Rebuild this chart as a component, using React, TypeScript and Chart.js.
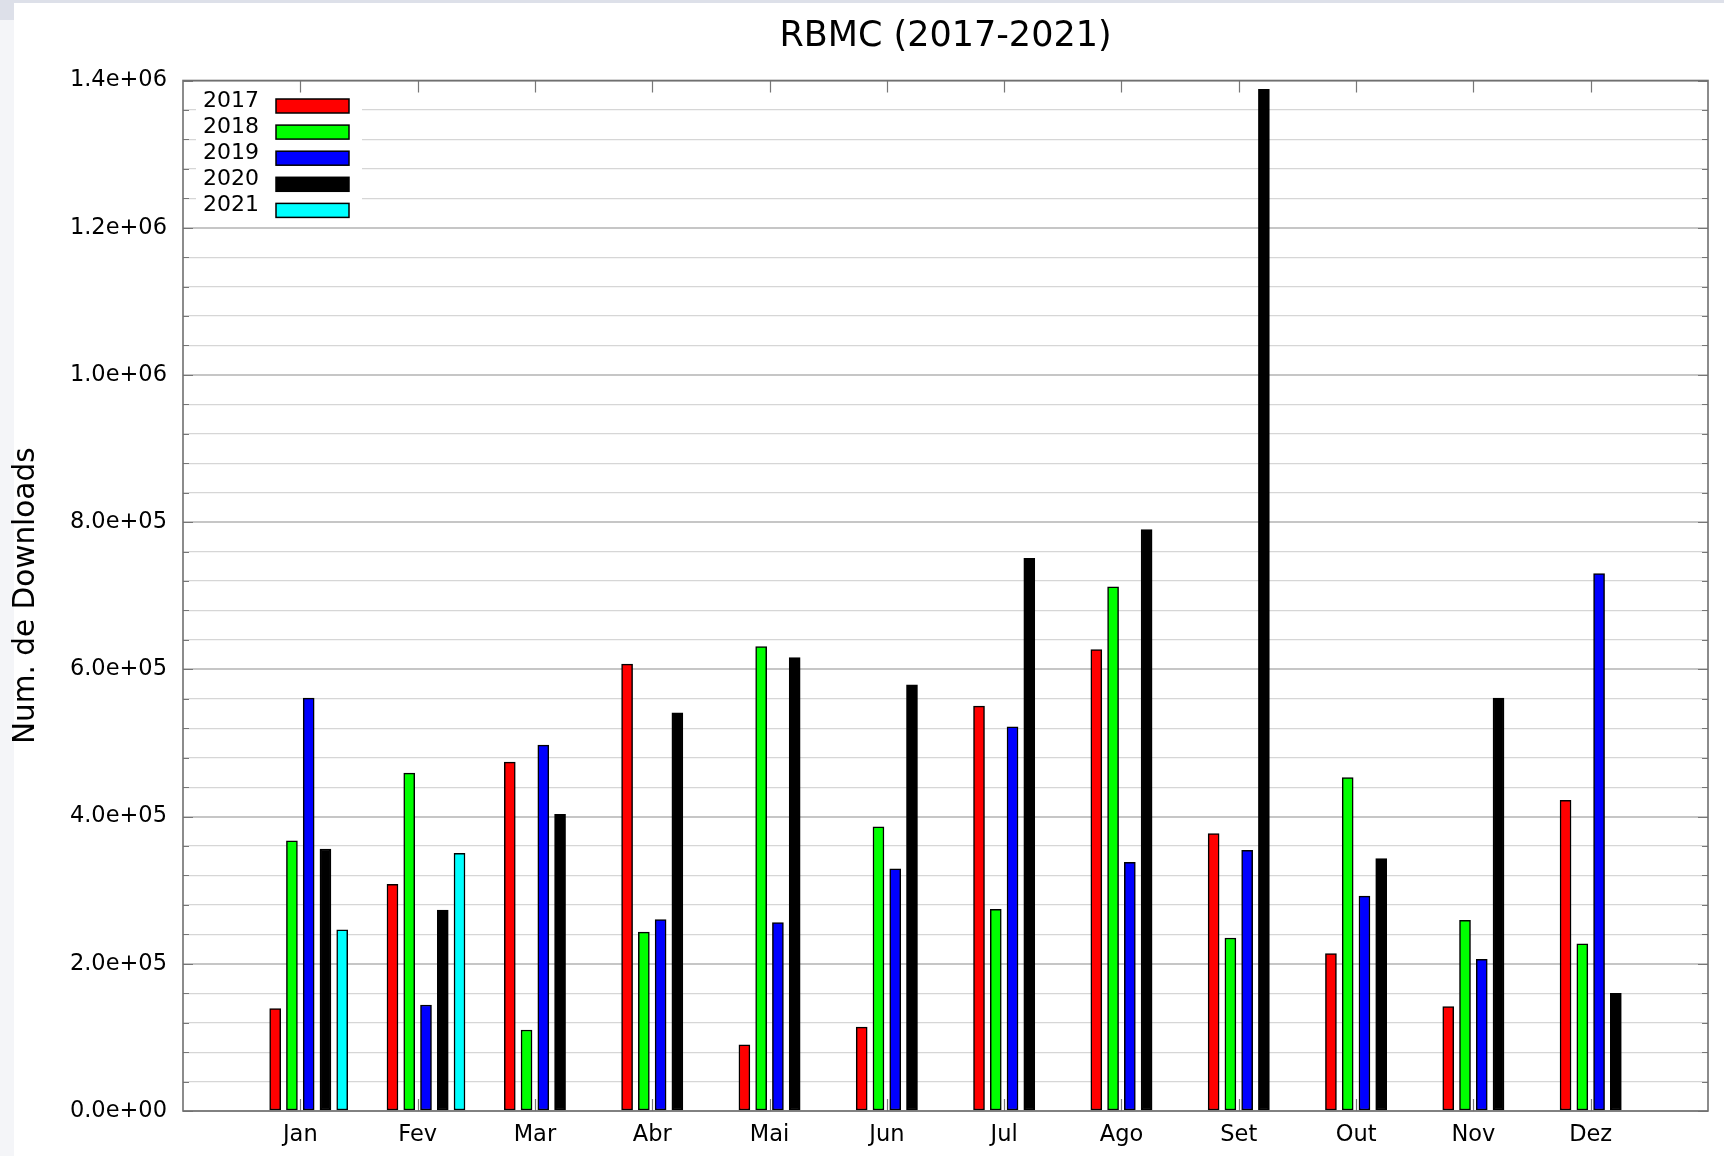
import React, { useEffect, useRef } from 'react';
import { Chart, registerables } from 'chart.js';

Chart.register(...registerables);

const FONT = '"DejaVu Sans", sans-serif';

const TITLE = 'RBMC (2017-2021)';
const Y_TITLE = 'Num. de Downloads';
const MONTHS = ['Jan', 'Fev', 'Mar', 'Abr', 'Mai', 'Jun', 'Jul', 'Ago', 'Set', 'Out', 'Nov', 'Dez'];
const SERIES = ['2017', '2018', '2019', '2020', '2021'];
const COLORS = ['#ff0000', '#00ff00', '#0000ff', '#000000', '#00ffff'];

const D2017 = [139000, 308000, 474000, 607000, 90000, 114000, 550000, 627000, 377000, 214000, 142000, 422000];
const D2018 = [367000, 459000, 110000, 243000, 631000, 386000, 274000, 712000, 235000, 453000, 259000, 227000];
const D2019 = [561000, 144000, 497000, 260000, 256000, 329000, 522000, 338000, 354000, 292000, 206000, 730000];
const D2020 = [356000, 273000, 403000, 541000, 616000, 579000, 751000, 790000, 1388000, 343000, 561000, 160000];
const D2021 = [246000, 350000];
const SERIES_DATA = [D2017, D2018, D2019, D2020, D2021];

const Y_MAX = 1400000;
const Y_STEP = 40000;
const Y_LABEL_STEP = 200000;
const X_MIN = 0;
const X_MAX = 13;
const SLOTS = 7; // cluster slot count per month (5 bars + gap)

const isMajor = (v: number) => Math.round(v / Y_STEP) % Math.round(Y_LABEL_STEP / Y_STEP) === 0;

const fmtExp = (v: number) => {
  const s = v.toExponential(1);
  return s.replace(/e([+-])(\d)$/, 'e$10$2');
};

const gnuplotFrame = {
  id: 'gnuplotFrame',
  afterDatasetsDraw(chart: any) {
    const { ctx, chartArea } = chart;
    const { left, right, top, bottom } = chartArea;
    const xs = chart.scales.x;
    const ys = chart.scales.y;
    ctx.save();

    // legend background
    ctx.fillStyle = '#ffffff';
    ctx.fillRect(196, top + 4, 166, 138);

    // tick marks
    ctx.strokeStyle = '#777777';
    ctx.lineWidth = 1.2;
    ctx.beginPath();
    for (let v = 0; v <= Y_MAX + 1; v += Y_STEP) {
      const y = Math.round(ys.getPixelForValue(v)) + 0.5;
      const len = isMajor(v) ? 10 : 6;
      ctx.moveTo(left, y);
      ctx.lineTo(left + len, y);
      ctx.moveTo(right, y);
      ctx.lineTo(right - len, y);
    }
    MONTHS.forEach((_, i) => {
      const x = Math.round(xs.getPixelForValue(i + 1)) + 0.5;
      ctx.moveTo(x, bottom);
      ctx.lineTo(x, bottom - 12);
      ctx.moveTo(x, top);
      ctx.lineTo(x, top + 12);
    });
    ctx.stroke();

    // frame
    ctx.strokeStyle = '#707070';
    ctx.lineWidth = 1.6;
    ctx.strokeRect(left, top, right - left, bottom - top);

    // legend entries
    ctx.font = `22px ${FONT}`;
    ctx.textAlign = 'right';
    ctx.textBaseline = 'middle';
    SERIES.forEach((name, k) => {
      const cy = top + 25.5 + k * 26.1;
      ctx.fillStyle = '#000000';
      ctx.fillText(name, 259, cy - 5);
      ctx.fillStyle = COLORS[k];
      ctx.fillRect(276, cy - 7, 73, 14);
      ctx.strokeStyle = '#000000';
      ctx.lineWidth = 1.5;
      ctx.strokeRect(276, cy - 7, 73, 14);
    });
    ctx.restore();
  },
};

export default function App() {
  const ref = useRef<HTMLCanvasElement | null>(null);

  useEffect(() => {
    if (!ref.current) return;
    const datasets = SERIES.map((name, k) => ({
      label: name,
      data: SERIES_DATA[k].map((v, i) => ({ x: i + 1 + (k - 1.5) / SLOTS, y: v })),
      backgroundColor: COLORS[k],
      borderColor: '#000000',
      borderWidth: 1.5,
      borderSkipped: false,
      barThickness: 11,
      grouped: false,
    }));

    const chart = new Chart(ref.current, {
      type: 'bar',
      data: { datasets } as any,
      options: {
        responsive: false,
        animation: false,
        layout: { padding: { left: 0, right: 16, top: 0, bottom: 0 } },
        plugins: {
          legend: { display: false },
          tooltip: { enabled: false },
          title: {
            display: true,
            text: TITLE,
            color: '#000000',
            fullSize: false,
            font: { family: FONT, size: 35, weight: 'normal', lineHeight: 1.2 },
            padding: { top: 15.9, bottom: 22.6 },
          },
        },
        scales: {
          x: {
            type: 'linear',
            min: X_MIN,
            max: X_MAX,
            offset: false,
            grid: { display: false, drawTicks: false, offset: false },
            border: { display: false },
            afterBuildTicks: (s: any) => {
              s.ticks = MONTHS.map((_, i) => ({ value: i + 1 }));
            },
            afterFit: (s: any) => {
              s.height = 45;
            },
            ticks: {
              autoSkip: false,
              maxRotation: 0,
              padding: 10.5,
              color: '#000000',
              font: { family: FONT, size: 22.5, lineHeight: 1.2 },
              callback: (v: any) => MONTHS[Math.round(Number(v)) - 1] ?? '',
            },
          },
          y: {
            min: 0,
            max: Y_MAX,
            grid: {
              drawTicks: false,
              color: (c: any) => (isMajor(c.tick.value) ? '#c6c6c6' : '#d6d6d6'),
              lineWidth: (c: any) => (isMajor(c.tick.value) ? 2 : 1.2),
            },
            border: { display: false },
            afterFit: (s: any) => {
              s.width = 183;
            },
            title: {
              display: true,
              text: Y_TITLE,
              color: '#000000',
              font: { family: FONT, size: 29.5, lineHeight: 1.2 },
              padding: { top: 8.3, bottom: 0 },
            },
            ticks: {
              stepSize: Y_STEP,
              maxTicksLimit: 1000,
              autoSkip: false,
              padding: 16,
              color: '#000000',
              font: { family: FONT, size: 22.5 },
              callback: (v: any) => (isMajor(Number(v)) ? fmtExp(Number(v)) : ''),
            },
          },
        },
      } as any,
      plugins: [gnuplotFrame],
    });
    return () => chart.destroy();
  }, []);

  return (
    <div style={{ position: 'fixed', left: 0, top: 0, width: 1724, height: 1156, background: '#ffffff', overflow: 'hidden' }}>
      <div style={{ position: 'absolute', left: 0, top: 0, width: 1724, height: 3, background: '#dde0e9' }} />
      <div style={{ position: 'absolute', left: 0, top: 3, width: 14, height: 17, background: '#dde0e9' }} />
      <div style={{ position: 'absolute', left: 0, top: 20, width: 14, height: 1136, background: '#f4f5f8' }} />
      <canvas ref={ref} width={1724} height={1156} style={{ position: 'absolute', left: 0, top: 0, width: 1724, height: 1156 }} />
    </div>
  );
}
